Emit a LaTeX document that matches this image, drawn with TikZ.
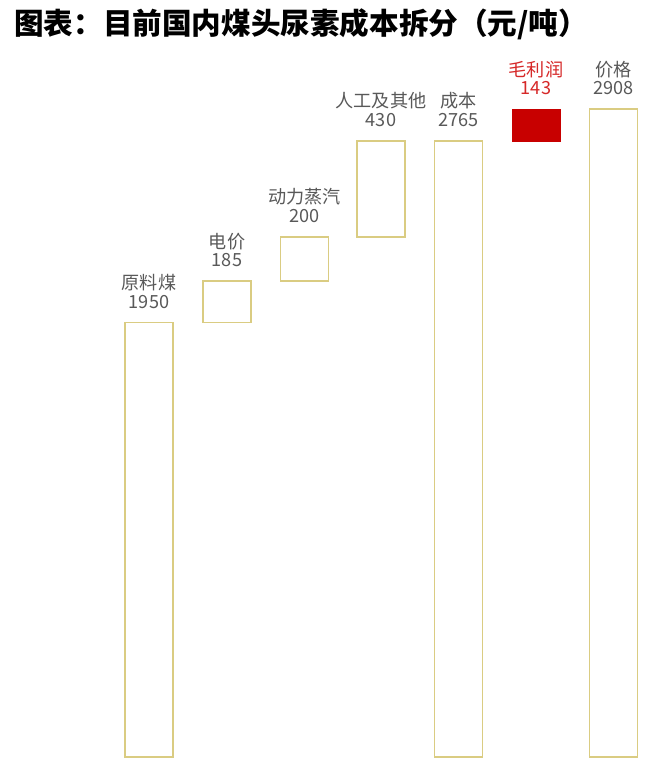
\documentclass[tikz,border=0pt]{standalone}
\usepackage{fontspec}
\setmainfont{Noto Sans CJK SC}
\usepackage{xcolor}
\definecolor{barline}{HTML}{DACC82}
\definecolor{labelgray}{HTML}{595959}
\definecolor{profitred}{HTML}{C80000}
\definecolor{profittext}{HTML}{D62828}
\tikzstyle{bar}=[draw=barline, line width=1.3pt]
\tikzstyle{profit}=[fill=profitred, draw=profitred, line width=0.6pt]
\tikzstyle{lbl}=[text=labelgray, font=\fontsize{13.6}{13.9}\selectfont, align=center, anchor=south, inner sep=0pt, yshift=10.5pt]

\begin{document}
\begin{tikzpicture}[x=0.75pt, y=-0.75pt]

\useasboundingbox (0,0) rectangle (668,775);
\fill[white] (0,0) rectangle (668,775);

% title
\node[anchor=west, inner sep=0pt, font=\fontsize{22.2}{22}\selectfont\bfseries] (title) at (14,24) {图表：目前国内煤头尿素成本拆分（元/吨）};

% cost parts
\draw[bar] (125,757) rectangle (173,322.6);
\node[lbl] (coal) at (149,322.6) {原料煤\\1950};

\draw[bar] (203,322.6) rectangle (251,281.3);
\node[lbl] (power) at (227,281.3) {电价\\185};

\draw[bar] (280.5,281.3) rectangle (328.5,236.8);
\node[lbl] (steam) at (304.5,236.8) {动力蒸汽\\200};

\draw[bar] (357,236.8) rectangle (405,141);
\node[lbl] (labour) at (381,141) {人工及其他\\430};

% total cost
\draw[bar] (434.5,757) rectangle (482.5,141);
\node[lbl] (cost) at (458.5,141) {成本\\2765};

% margin
\draw[profit] (512,141) rectangle (560,109.1);
\node[lbl, text=profittext] (margin) at (536,109.1) {毛利润\\143};

% price
\draw[bar] (589.5,757) rectangle (637.5,109.1);
\node[lbl] (price) at (613.5,109.1) {价格\\2908};

\end{tikzpicture}
\end{document}
